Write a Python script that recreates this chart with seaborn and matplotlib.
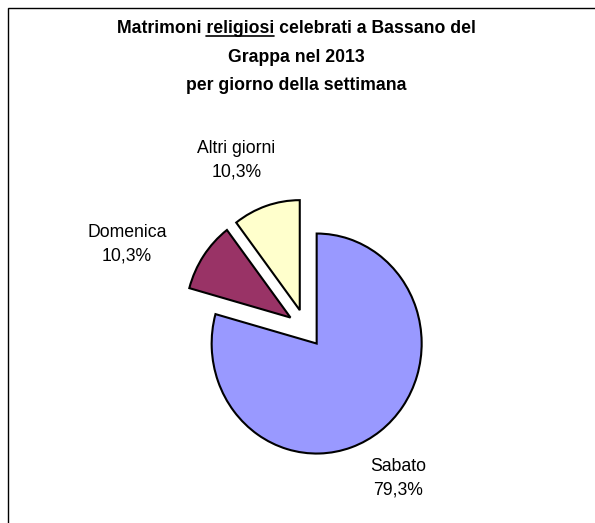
import matplotlib
matplotlib.use("Agg")
import matplotlib.pyplot as plt
from matplotlib.lines import Line2D
from matplotlib.patches import Rectangle
import seaborn as sns

# Matrimoni religiosi per giorno della settimana (conteggi)
giorni = ["Sabato", "Domenica", "Altri giorni"]
matrimoni = [23, 3, 3]
colori = ["#9999FF", "#993366", "#FFFFCC"]
titolo = ["Matrimoni religiosi celebrati a Bassano del",
          "Grappa nel 2013",
          "per giorno della settimana"]

# label positions (data units, relative to pie centre)
pos_etichette = [(0.88, -1.36), (-1.70, 0.76), (-0.66, 1.53)]

sns.set_style("white")
plt.rcParams["font.family"] = ["Liberation Sans", "DejaVu Sans"]
plt.rcParams["text.color"] = "black"

W, H = 595, 523
fig = plt.figure(figsize=(W / 100, H / 100), dpi=100)
ax = fig.add_axes([0, 0, 1, 1])

wedges, _ = ax.pie(matrimoni, colors=colori, startangle=90, counterclock=False,
                   explode=[0.174] * len(matrimoni),
                   wedgeprops=dict(edgecolor="black", linewidth=1.5))
ax.set_aspect("auto")
# pie centre at px (305.6, 328.3), slightly taller than wide like the original
sx, sy, cx, cy = 105, 110, 305.6, 328.3
ax.set_xlim(-cx / sx, (W - cx) / sx)
ax.set_ylim(-(H - cy) / sy, cy / sy)
ax.axis("off")

totale = sum(matrimoni)
for nome, n, (x, y) in zip(giorni, matrimoni, pos_etichette):
    perc = f"{100 * n / totale:.1f}%".replace(".", ",")
    ax.text(x, y, f"{nome}\n{perc}", ha="center", va="center",
            fontsize=12.7, linespacing=1.5, color="black")

# title, one text per line
fs_t = 12.7
basi = [33, 62, 90]
testi = []
for riga, b in zip(titolo, basi):
    testi.append(fig.text(0.498, 1 - b / H, riga, ha="center", va="baseline",
                          fontsize=fs_t, fontweight="bold", color="black"))

# underline "religiosi"
renderer = fig.canvas.get_renderer()
bb = testi[0].get_window_extent(renderer)


def larghezza(s):
    t = fig.text(0, 0, s, fontsize=fs_t, fontweight="bold")
    w = t.get_window_extent(renderer).width
    t.remove()
    return w


x_fine = bb.x0 + larghezza("Matrimoni religiosi")
x_ini = x_fine - larghezza("religiosi")
y_u = (H - basi[0] - 2.5) / H
fig.add_artist(Line2D([x_ini / W, x_fine / W], [y_u, y_u], color="black",
                      linewidth=1.2, transform=fig.transFigure))

# chart border (only left and top edges fall inside the picture)
fig.add_artist(Rectangle((8 / W, -0.1), 1.5, 1 - 8 / H + 0.1, fill=False,
                         edgecolor="black", linewidth=1.0,
                         transform=fig.transFigure, clip_on=False))

fig.savefig("out.png", dpi=100)
